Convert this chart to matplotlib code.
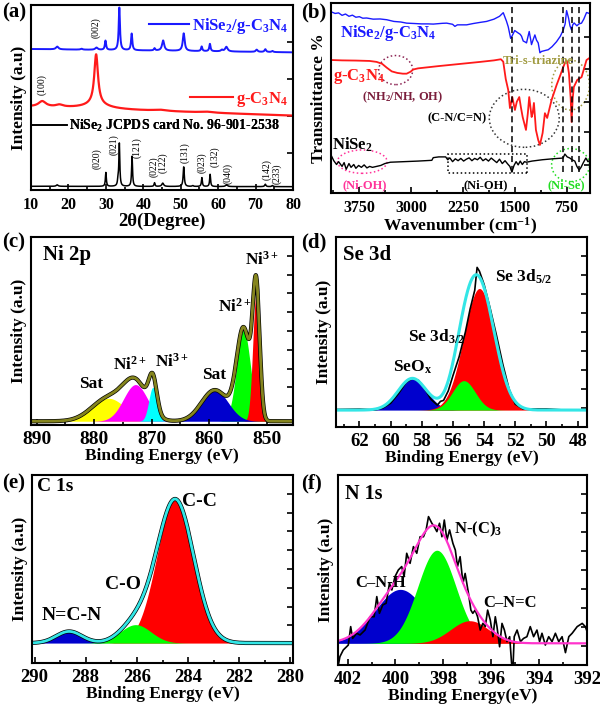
import numpy as np
import matplotlib
matplotlib.use('Agg')
import matplotlib.pyplot as plt
from matplotlib.patches import Ellipse, Rectangle
from matplotlib.lines import Line2D
from matplotlib.ticker import MultipleLocator, FixedLocator

plt.rcParams['font.family'] = ['Liberation Serif', 'DejaVu Serif']
plt.rcParams['font.weight'] = 'bold'
plt.rcParams['axes.labelweight'] = 'bold'
plt.rcParams['mathtext.fontset'] = 'custom'
plt.rcParams['mathtext.rm'] = 'Liberation Serif:bold'
plt.rcParams['mathtext.it'] = 'Liberation Serif:italic:bold'
plt.rcParams['mathtext.bf'] = 'Liberation Serif:bold'
plt.rcParams['axes.linewidth'] = 1.5

# ---------------- (a) XRD: peak tables (2theta, height, half width) ----------------
xrd_nise_pos = [17.0, 30.0, 33.25, 33.6, 37.0, 43.0, 45.2, 50.8, 53.2, 55.65, 57.85, 62.25, 72.6, 74.5]
xrd_nise_h   = [0.8, 7.5, 3.0, 23.0, 16.3, 2.0, 1.8, 10.6, 0.5, 4.8, 6.6, 1.0, 1.3, 0.6]
xrd_nise_w   = [0.3, 0.15, 0.15, 0.15, 0.15, 0.15, 0.3, 0.18, 0.2, 0.15, 0.15, 0.3, 0.2, 0.2]
xrd_nise_base = [2.0, 1.8]

xrd_gcn_pos = [13.0, 17.6, 27.4, 27.4, 44.5, 57.0]
xrd_gcn_h   = [3.0, 1.2, 27.0, 2.5, 0.6, 0.5]
xrd_gcn_w   = [1.2, 1.2, 0.6, 4.0, 2.0, 2.0]
xrd_gcn_base = [45.0, 40.2]

xrd_comp_pos = [17.0, 23.5, 27.5, 29.9, 33.6, 36.9, 43.0, 45.3, 50.8, 55.6, 57.8, 61.0, 62.2, 70.3, 72.6, 74.5]
xrd_comp_h   = [1.5, 0.5, 1.2, 5.0, 23.0, 9.0, 1.2, 5.5, 9.5, 2.5, 4.0, 0.8, 2.5, 1.2, 1.5, 0.6]
xrd_comp_w   = [0.4, 0.3, 0.4, 0.2, 0.2, 0.2, 0.2, 0.35, 0.3, 0.2, 0.2, 0.3, 0.4, 0.3, 0.25, 0.25]
xrd_comp_base = [76.2, 74.4]

hkl_labels = ['(002)', '(100)', '(020)', '(021)', '(121)', '(022)', '(122)', '(131)',
              '(023)', '(132)', '(040)', '(142)', '(233)']
hkl_x = [27.3, 13.0, 27.6, 32.0, 38.3, 42.9, 45.3, 51.0, 55.7, 59.0, 62.7, 73.0, 75.8]
hkl_y = [88, 57, 17, 24.5, 23, 12.5, 14.5, 20, 14.5, 18, 9, 11, 9]

# ---------------- (b) FTIR: wavenumber / transmittance ----------------
ir_comp_wn = [4160, 4100, 4050, 4000, 3950, 3900, 3850, 3800, 3750, 3700, 3644, 3550, 3450, 3354,
              3250, 3150, 3065, 2950, 2850, 2750, 2679, 2550, 2486, 2400, 2366, 2330, 2197, 2100,
              2000, 1908, 1800, 1720, 1666, 1620, 1594, 1559, 1540, 1500, 1449, 1420, 1401, 1377,
              1350, 1329, 1310, 1290, 1270, 1257, 1230, 1208, 1185, 1160, 1135, 1112, 1060, 1015,
              960, 895, 840, 798, 770, 749, 720, 700, 677, 660, 640, 600, 570, 533, 500, 460, 420]
ir_comp_t  = [95.4, 94.5, 94.8, 93.5, 94.2, 93.0, 93.6, 92.5, 92.8, 92.0, 92.1, 91.5, 91.6, 91.2,
              90.3, 90.0, 89.4, 89.2, 89.0, 89.0, 88.9, 89.3, 89.4, 88.8, 87.7, 88.5, 88.5, 89.2,
              89.8, 90.3, 91.5, 93.0, 94.9, 90.5, 87.5, 81.4, 82.5, 85.5, 84.2, 83.5, 82.5, 80.0,
              79.5, 79.0, 82.0, 85.0, 81.0, 78.1, 81.0, 83.2, 80.5, 79.0, 73.8, 74.5, 75.0, 75.4,
              77.0, 79.6, 82.5, 85.7, 89.0, 96.0, 92.0, 88.0, 85.8, 88.5, 89.5, 88.0, 89.0, 89.4,
              91.5, 95.0, 94.5]

ir_gcn_wn = [4160, 4000, 3800, 3600, 3500, 3420, 3354, 3280, 3200, 3120, 3065, 3010, 2969, 2900,
             2600, 2300, 2000, 1800, 1700, 1666, 1630, 1594, 1569, 1535, 1497, 1470, 1434, 1410,
             1385, 1337, 1310, 1290, 1255, 1240, 1222, 1193, 1160, 1135, 1096, 1063, 1030, 966,
             894, 840, 797, 760, 740, 715, 690, 677, 660, 644, 595, 532, 500, 460, 420]
ir_gcn_t  = [70.0, 69.8, 69.7, 69.5, 69.0, 68.0, 66.0, 64.0, 63.2, 62.8, 62.8, 63.8, 65.0, 65.6,
             66.8, 67.9, 69.0, 69.8, 70.4, 69.1, 60.0, 54.2, 44.7, 50.5, 43.7, 48.0, 50.5, 45.0,
             40.0, 33.2, 42.0, 50.5, 40.0, 42.0, 47.4, 33.2, 27.9, 25.3, 31.6, 42.0, 39.5, 49.0,
             56.8, 62.0, 66.3, 69.5, 69.0, 63.0, 50.0, 37.4, 50.0, 55.8, 59.5, 61.0, 65.0, 70.0, 71.0]

ir_nise_wn = [4160, 4120, 4080, 4050, 4000, 3970, 3940, 3900, 3870, 3830, 3800, 3760, 3720, 3680,
              3640, 3600, 3560, 3500, 3440, 3380, 3300, 3100, 2900, 2700, 2680, 2600, 2500, 2470,
              2440, 2400, 2360, 2320, 2280, 2240, 2200, 2160, 2120, 2080, 2040, 2000, 1960, 1920,
              1880, 1840, 1800, 1760, 1720, 1680, 1640, 1600, 1570, 1541, 1510, 1480, 1450, 1420,
              1390, 1360, 1330, 1250, 1100, 950, 800, 774, 740, 702, 670, 630, 600, 567, 540, 509,
              470, 440, 420]
ir_nise_t  = [20.0, 17.0, 15.0, 16.5, 14.0, 16.0, 12.5, 15.5, 13.5, 15.0, 13.0, 14.5, 13.5, 14.8,
              13.2, 14.0, 13.5, 14.0, 14.5, 15.5, 16.2, 16.5, 16.8, 17.2, 18.6, 19.0, 19.0, 17.5,
              18.5, 16.5, 18.0, 17.0, 18.2, 16.8, 17.8, 18.5, 17.0, 18.2, 17.5, 18.8, 17.0, 18.0,
              16.8, 18.4, 17.2, 16.0, 17.8, 15.5, 17.0, 15.2, 14.0, 11.0, 14.5, 16.5, 14.8, 16.8,
              15.0, 16.5, 16.2, 16.8, 17.5, 18.0, 18.4, 20.5, 19.0, 18.4, 17.5, 16.8, 14.0, 12.1,
              13.5, 15.8, 18.4, 16.5, 17.0]

ir_marks = [1541, 802, 677, 567]

# ---------------- (c)-(f) XPS fitted components (centre eV, height, sigma) ----------------
# order = drawing order (yellow sat, Ni2+, Ni3+, Ni2+, Ni3+, sat)
ni_center = [877.5, 872.8, 869.8, 854.0, 851.8, 859.0]
ni_height = [12.2, 19.5, 18.0, 48.5, 68.0, 16.6]
ni_sigma  = [2.9, 2.1, 0.7, 1.2, 0.6, 2.3]
ni_base = 2.0

se_center = [58.6, 54.3, 55.3]
se_height = [16.7, 64.0, 15.5]
se_sigma  = [0.91, 1.0, 0.73]
se_base = 8.9
se_raw_e = [63.5, 62.0, 61.0, 60.5, 60.0, 59.5, 59.0, 58.6, 58.2, 57.8, 57.4, 57.0, 56.8, 56.6,
            56.3, 56.0, 55.6, 55.2, 54.9, 54.6, 54.45, 54.3, 54.0, 53.6, 53.2, 52.8, 52.4, 52.0,
            51.5, 50.0, 49.0, 47.4]
se_raw_i = [9.2, 9.4, 9.0, 10.0, 12.5, 17.5, 23.5, 25.5, 24.5, 20.0, 14.5, 11.5, 13.5, 14.0,
            19.0, 27.0, 37.0, 50.0, 62.0, 72.0, 84.0, 82.0, 75.0, 62.0, 48.0, 33.0, 20.0, 12.0,
            9.5, 9.5, 9.0, 9.0]

c_center = [288.65, 284.5, 286.05]
c_height = [6.2, 76.3, 9.8]
c_sigma  = [0.5, 0.72, 0.6]
c_base = 10.6

n_center = [399.8, 398.27, 396.9]
n_height = [28.4, 49.0, 11.9]
n_sigma  = [1.05, 0.8, 0.8]
n_base = 11.4
n_raw_e = [402.4, 402.32, 402.18, 401.97, 401.87, 401.79, 401.62, 401.48, 401.27, 401.06, 400.89,
           400.78, 400.67, 400.53, 400.39, 400.25, 400.15, 400.02, 399.88, 399.74, 399.64, 399.53,
           399.39, 399.25, 399.11, 398.97, 398.83, 398.72, 398.62, 398.48, 398.38, 398.27, 398.16,
           398.06, 397.96, 397.85, 397.74, 397.60, 397.50, 397.41, 397.30, 397.18, 397.09, 396.95,
           396.85, 396.77, 396.67, 396.57, 396.46, 396.35, 396.25, 396.15, 396.04, 395.93, 395.83,
           395.76, 395.65, 395.55, 395.45, 395.34, 395.23, 395.15, 395.09, 395.04, 394.92, 394.78,
           394.65, 394.51, 394.37, 394.23, 394.09, 393.98, 393.88, 393.74, 393.60, 393.46, 393.32,
           393.18, 393.04, 392.90, 392.76, 392.62, 392.41, 392.20, 392.07, 391.97]
n_raw_i = [-0.9, 4.4, 7.9, 10.5, 20.2, 14.0, 16.7, 15.8, 18.4, 25.4, 25.4,
           36.0, 27.2, 31.6, 32.5, 43.0, 39.5, 46.5, 50.0, 51.8, 46.5, 58.8,
           53.5, 62.3, 58.8, 67.5, 67.5, 71.1, 78.1, 74.6, 72.8, 70.2, 74.6,
           67.5, 76.3, 65.8, 71.1, 64.0, 60.5, 51.8, 57.0, 43.0, 48.2, 37.7,
           28.9, 27.2, 28.9, 25.4, 18.4, 21.9, 20.2, 28.9, 23.7, 14.9, 25.4,
           20.2, 9.6, 21.9, 18.4, 12.3, 14.9, 0.9, -0.9, 14.9, 18.4, 12.3,
           14.0, 14.9, 20.2, 14.9, 18.4, 12.3, 16.7, 10.5, 14.9, 12.3, 16.7,
           12.3, 14.9, 6.5, 14.9, 16.7, 20.2, 21.9, 20.2, 16.7]


def lorentz(x, c, h, w):
    return h / (1 + ((x - c) / w) ** 2)


def gauss(x, c, h, s):
    return h * np.exp(-(x - c) ** 2 / (2 * s ** 2))


def xrd_curve(x, pos, hgt, wid, base):
    y = base[0] + (base[1] - base[0]) * (x - x[0]) / (x[-1] - x[0])
    for c, h, w in zip(pos, hgt, wid):
        y = y + lorentz(x, c, h, w)
    return y


def style(ax, fs, pad=4):
    ax.tick_params(axis='x', which='both', direction='in', top=False, labelsize=fs, width=1.2, pad=pad)
    ax.tick_params(axis='x', which='major', length=4)
    ax.tick_params(axis='x', which='minor', length=2.5)
    ax.tick_params(axis='y', which='both', direction='in', left=False, right=True,
                   labelleft=False, width=1.2, length=4)


def xps_panel(ax, e, centers, heights, sigmas, base, colors):
    comps = [gauss(e, c, h, s) for c, h, s in zip(centers, heights, sigmas)]
    for comp, col in zip(comps, colors):
        ax.fill_between(e, base, base + comp, color=col, lw=0)
    return base + np.sum(comps, axis=0)


W, H = 600, 709
fig = plt.figure(figsize=(6.0, 7.09), dpi=100)


def box(l, t, r, b):
    return fig.add_axes([l / W, 1 - b / H, (r - l) / W, (b - t) / H])


# ---------------- (a) ----------------
ax = box(31, 5, 293, 190)
x = np.linspace(10, 80, 3501)
ax.plot(x, xrd_curve(x, xrd_nise_pos, xrd_nise_h, xrd_nise_w, xrd_nise_base), color='black', lw=1.1)
ax.plot(x, xrd_curve(x, xrd_gcn_pos, xrd_gcn_h, xrd_gcn_w, xrd_gcn_base), color='#ff1a1a', lw=1.6)
ax.plot(x, xrd_curve(x, xrd_comp_pos, xrd_comp_h, xrd_comp_w, xrd_comp_base), color='#1a1aff', lw=1.4)
for lab, xx, yy in zip(hkl_labels, hkl_x, hkl_y):
    ax.text(xx, yy, lab, rotation=90, ha='center', va='center', fontsize=7, fontweight='normal')
ax.set_xlim(10, 80)
ax.set_ylim(0, 100)
ax.xaxis.set_major_locator(MultipleLocator(10))
ax.xaxis.set_minor_locator(MultipleLocator(5))
ax.yaxis.set_major_locator(MultipleLocator(20))
style(ax, 11.5, pad=5)
ax.set_xlabel('2θ(Degree)', fontsize=13.5, labelpad=0)
ax.set_ylabel('Intensity (a.u)', fontsize=12.5, labelpad=3)
legs = [
    (Line2D([], [], color='#1a1aff', lw=1.5), r'NiSe$_2$/g-C$_3$N$_4$', '#1a1aff', 12, 'center right', (0.98, 0.886), 2.4),
    (Line2D([], [], color='#ff1a1a', lw=1.5), r'g-C$_3$N$_4$', '#ff1a1a', 12, 'center right', (0.98, 0.49), 2.6),
    (Line2D([], [], color='black', lw=1.2), r'NiSe$_2$ JCPDS card No. 96-901-2538', 'black', 10, 'center left', (0.0, 0.346), 2.6),
]
for h, lab, col, fs, loc, anc, hl in legs:
    lg = ax.legend([h], [lab], loc=loc, bbox_to_anchor=anc, frameon=False, fontsize=fs,
                   handlelength=hl, handletextpad=0.15, borderpad=0, borderaxespad=0, labelcolor=col)
    ax.add_artist(lg)

# ---------------- (b) ----------------
ax = box(331, 3, 590, 193)
ax.plot(ir_nise_wn, ir_nise_t, color='black', lw=1.0)
ax.plot(ir_gcn_wn, ir_gcn_t, color='#ff1a1a', lw=1.3)
ax.plot(ir_comp_wn, ir_comp_t, color='#1a1aff', lw=1.0)
ax.vlines(ir_marks, 11, 100, colors='black', linestyles=(0, (4, 2.5)), lw=1.1)
ax.add_patch(Ellipse((3223, 64.7), 492, 15.3, fill=False, ls=':', ec='#8b2252', lw=1.1))
ax.add_patch(Ellipse((1362, 39.3), 1013, 30.5, fill=False, ls=':', ec='#333333', lw=1.1))
ax.add_patch(Ellipse((691, 56.8), 545, 26.3, fill=False, ls=':', ec='#a09a40', lw=1.1))
ax.add_patch(Ellipse((3707, 16.5), 719, 12.3, fill=False, ls=':', ec='#ff3399', lw=1.1))
ax.add_patch(Ellipse((691, 14.7), 550, 17.4, fill=False, ls=':', ec='#22dd22', lw=1.1))
ax.add_patch(Rectangle((1319, 10.4), 2471 - 1319, 10.1, fill=False, ls=':', ec='black', lw=1.1))
ax.set_xlim(4160, 410)
ax.set_ylim(0, 100)
ax.xaxis.set_major_locator(FixedLocator([3750, 3000, 2250, 1500, 750]))
ax.xaxis.set_minor_locator(MultipleLocator(375))
ax.yaxis.set_major_locator(FixedLocator([15, 32, 48, 65, 82]))
style(ax, 11.5, pad=5)
ax.set_xlabel('Wavenumber (cm$^{-1}$)', fontsize=12.5, labelpad=0)
ax.set_ylabel('Transmittance %', fontsize=12.5, labelpad=3)
tb = ax.transAxes
ax.text(0.035, 0.84, r'NiSe$_2$/g-C$_3$N$_4$', color='#1a1aff', fontsize=12, transform=tb, va='center')
ax.text(0.008, 0.615, r'g-C$_3$N$_4$', color='#ff1a1a', fontsize=12, transform=tb, va='center')
ax.text(0.12, 0.505, r'(NH$_2$/NH, OH)', color='#7b1e3c', fontsize=9, transform=tb, va='center')
ax.text(0.371, 0.393, '(C-N/C=N)', color='black', fontsize=9, transform=tb, va='center')
ax.text(0.664, 0.695, 'Tri-s-triazine', color='#a09a40', fontsize=9, transform=tb, va='center')
ax.text(0.004, 0.253, r'NiSe$_2$', color='black', fontsize=12, transform=tb, va='center')
ax.text(0.046, 0.042, '(Ni-OH)', color='#ff3399', fontsize=9, transform=tb, va='center')
ax.text(0.51, 0.042, '(Ni-OH)', color='black', fontsize=9, transform=tb, va='center')
ax.text(0.834, 0.042, '(Ni-Se)', color='#22dd22', fontsize=9, transform=tb, va='center')

# ---------------- (c) Ni 2p ----------------
ax = box(31, 237, 293, 425)
e = np.linspace(845.4, 891, 1500)
env = xps_panel(ax, e, ni_center, ni_height, ni_sigma, ni_base,
                ['#ffff00', '#ff00ff', '#00ffff', '#00ff00', '#ff0000', '#0000cd'])
ax.plot(e, env, color='black', lw=3.0)
ax.plot(e, env, color='#85851e', lw=2.0)
ax.set_xlim(891, 845.4)
ax.set_ylim(0, 100)
ax.xaxis.set_major_locator(MultipleLocator(10))
ax.xaxis.set_minor_locator(MultipleLocator(5))
ax.yaxis.set_major_locator(MultipleLocator(10))
style(ax, 14)
ax.set_xlabel('Binding Energy (eV)', fontsize=12.5, labelpad=0)
ax.set_ylabel('Intensity (a.u)', fontsize=12.5, labelpad=3)
tb = ax.transAxes
ax.text(0.046, 0.904, 'Ni 2p', fontsize=15, transform=tb, va='center')
for lab, xf, yf in [('Sat', 0.229, 0.218), (r'Ni$^{2+}$', 0.378, 0.319), (r'Ni$^{3+}$', 0.538, 0.337),
                    ('Sat', 0.698, 0.266), (r'Ni$^{2+}$', 0.779, 0.63), (r'Ni$^{3+}$', 0.882, 0.881)]:
    ax.text(xf, yf, lab, fontsize=12.5, transform=tb, ha='center', va='center')

# ---------------- (d) Se 3d ----------------
ax = box(336, 237, 587, 427)
e = np.linspace(47.4, 63.5, 1200)
env = xps_panel(ax, e, se_center, se_height, se_sigma, se_base, ['#0000cd', '#ff0000', '#00ff00'])
ax.plot(se_raw_e, se_raw_i, color='black', lw=1.2)
ax.plot(e, env, color='#33e6e6', lw=2.2)
ax.set_xlim(63.5, 47.4)
ax.set_ylim(0, 100)
ax.xaxis.set_major_locator(MultipleLocator(2))
ax.xaxis.set_minor_locator(MultipleLocator(1))
ax.yaxis.set_major_locator(MultipleLocator(10))
style(ax, 13.5)
ax.set_xlabel('Binding Energy (eV)', fontsize=12.5, labelpad=0)
ax.set_ylabel('Intensity (a.u)', fontsize=12.5, labelpad=3)
tb = ax.transAxes
ax.text(0.028, 0.905, 'Se 3d', fontsize=15, transform=tb, va='center')
ax.text(0.633, 0.791, r'Se 3d$_{5/2}$', fontsize=12.5, transform=tb, va='center')
ax.text(0.287, 0.474, r'Se 3d$_{3/2}$', fontsize=12.5, transform=tb, va='center')
ax.text(0.227, 0.316, r'SeO$_\mathrm{x}$', fontsize=12.5, transform=tb, va='center')

# ---------------- (e) C 1s ----------------
ax = box(32, 475, 293, 663)
e = np.linspace(279.9, 290.1, 1200)
env = xps_panel(ax, e, c_center, c_height, c_sigma, c_base, ['#0000cd', '#ff0000', '#00ff00'])
ax.plot(e, env, color='black', lw=3.0)
ax.plot(e, env, color='#33e6e6', lw=2.0)
ax.set_xlim(290.1, 279.9)
ax.set_ylim(0, 100)
ax.xaxis.set_major_locator(MultipleLocator(2))
ax.xaxis.set_minor_locator(MultipleLocator(1))
ax.yaxis.set_major_locator(MultipleLocator(10))
style(ax, 13.5)
ax.set_xlabel('Binding Energy (eV)', fontsize=12.5, labelpad=0)
ax.set_ylabel('Intensity (a.u)', fontsize=12.5, labelpad=3)
tb = ax.transAxes
ax.text(0.02, 0.94, 'C 1s', fontsize=14, transform=tb, va='center')
ax.text(0.64, 0.86, 'C-C', fontsize=14, transform=tb, ha='center', va='center')
ax.text(0.35, 0.416, 'C-O', fontsize=14, transform=tb, ha='center', va='center')
ax.text(0.154, 0.25, 'N=C-N', fontsize=14, transform=tb, ha='center', va='center')

# ---------------- (f) N 1s ----------------
ax = box(338, 475, 587, 665)
e = np.linspace(391.9, 402.5, 1200)
env = xps_panel(ax, e, n_center, n_height, n_sigma, n_base, ['#0000cd', '#00ff00', '#ff0000'])
ax.plot(n_raw_e, n_raw_i, color='black', lw=1.2)
ax.plot(e, env, color='#ff33cc', lw=1.6)
ax.set_xlim(402.4, 392)
ax.set_ylim(0, 100)
ax.xaxis.set_major_locator(MultipleLocator(2))
ax.xaxis.set_minor_locator(MultipleLocator(1))
ax.yaxis.set_major_locator(MultipleLocator(10))
style(ax, 13.5)
ax.set_xlabel('Binding Energy(eV)', fontsize=12.5, labelpad=0)
ax.set_ylabel('Intensity (a.u)', fontsize=12.5, labelpad=3)
tb = ax.transAxes
ax.text(0.028, 0.9, 'N 1s', fontsize=14.5, transform=tb, va='center')
ax.text(0.466, 0.714, r'N-(C)$_3$', fontsize=12, transform=tb, va='center')
ax.text(0.068, 0.43, 'C–N-H', fontsize=12, transform=tb, va='center')
ax.text(0.582, 0.325, 'C–N=C', fontsize=12, transform=tb, va='center')

# panel letters
for lab, px, py in [('(a)', 2, 12), ('(b)', 301, 12), ('(c)', 2, 242),
                    ('(d)', 301, 242), ('(e)', 2, 483), ('(f)', 301, 483)]:
    fig.text(px / W, 1 - py / H, lab, fontsize=15, ha='left', va='center')

fig.savefig('out.png', dpi=100)
